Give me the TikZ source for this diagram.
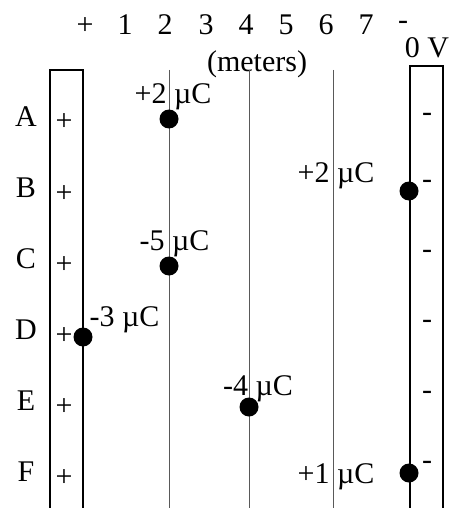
\documentclass[tikz,border=0pt]{standalone}
\usepackage{fontspec}
\setmainfont{Liberation Serif}
\usetikzlibrary{positioning}
\tikzset{
  every picture/.style={line width=1pt},
  lbl/.style={font=\fontsize{30}{33}\selectfont, inner sep=0pt, anchor=base},
  plate/.style={draw, line width=1.4pt},
  field/.style={draw=black!65, line width=0.9pt},
  charge/.style={circle, fill=black, inner sep=0pt, minimum size=19pt},
}
\begin{document}
\begin{tikzpicture}[x=1pt, y=-1pt]
  \useasboundingbox (0,0) rectangle (448,508);
  % scale along the top
  \node[lbl] (s0) at (85,35) {+};
  \node[lbl] (s1) at (125,35) {1};
  \node[lbl] (s2) at (165,35) {2};
  \node[lbl] (s3) at (206,35) {3};
  \node[lbl] (s4) at (246,35) {4};
  \node[lbl] (s5) at (286,35) {5};
  \node[lbl] (s6) at (326,35) {6};
  \node[lbl] (s7) at (366,35) {7};
  \node[lbl] (s8) at (403,30) {-};
  \node[lbl] (unit) at (257,72) {(meters)};
  \node[lbl] (volt) at (427,58) {0 V};
  % plates and field lines
  \draw[plate] (50,508) -- (50,70) -- (83,70) -- (83,508);
  \draw[plate] (410,508) -- (410,66) -- (443,66) -- (443,508);
  \draw[line width=2pt] (410,66) -- (410,508);
  \draw[field] (169,70) -- (169,508);
  \draw[field] (249,70) -- (249,508);
  \draw[field] (333,70) -- (333,508);
  % rows
  \node[lbl] (ra) at (26,126) {A};
  \node[lbl] (rb) at (26,197) {B};
  \node[lbl] (rc) at (26,268) {C};
  \node[lbl] (rd) at (26,339) {D};
  \node[lbl] (re) at (26,410) {E};
  \node[lbl] (rf) at (26,481) {F};
  \node[lbl] (pa) at (64,131) {+};
  \node[lbl] (pb) at (64,202) {+};
  \node[lbl] (pc) at (64,273) {+};
  \node[lbl] (pd) at (64,344) {+};
  \node[lbl] (pe) at (64,415) {+};
  \node[lbl] (pf) at (64,486) {+};
  \node[lbl] (ma) at (427,121.5) {-};
  \node[lbl] (mb) at (427,188.5) {-};
  \node[lbl] (mc) at (427,258.5) {-};
  \node[lbl] (md) at (427,328.5) {-};
  \node[lbl] (me) at (427,399.5) {-};
  \node[lbl] (mf) at (427,469.5) {-};
  % charges
  \node[charge] (qa) at (169,119) {};
  \node[charge] (qb) at (409,191) {};
  \node[charge] (qc) at (169,266) {};
  \node[charge] (qd) at (83,337) {};
  \node[charge] (qe) at (249,407) {};
  \node[charge] (qf) at (409,473) {};
  \node[lbl] (la) at (173,103) {+2 µC};
  \node[lbl] (lb) at (336,182) {+2 µC};
  \node[lbl] (lc) at (174.5,250) {-5 µC};
  \node[lbl] (ld) at (124.5,326) {-3 µC};
  \node[lbl] (le) at (258,395) {-4 µC};
  \node[lbl] (lf) at (336,483) {+1 µC};
\end{tikzpicture}
\end{document}
